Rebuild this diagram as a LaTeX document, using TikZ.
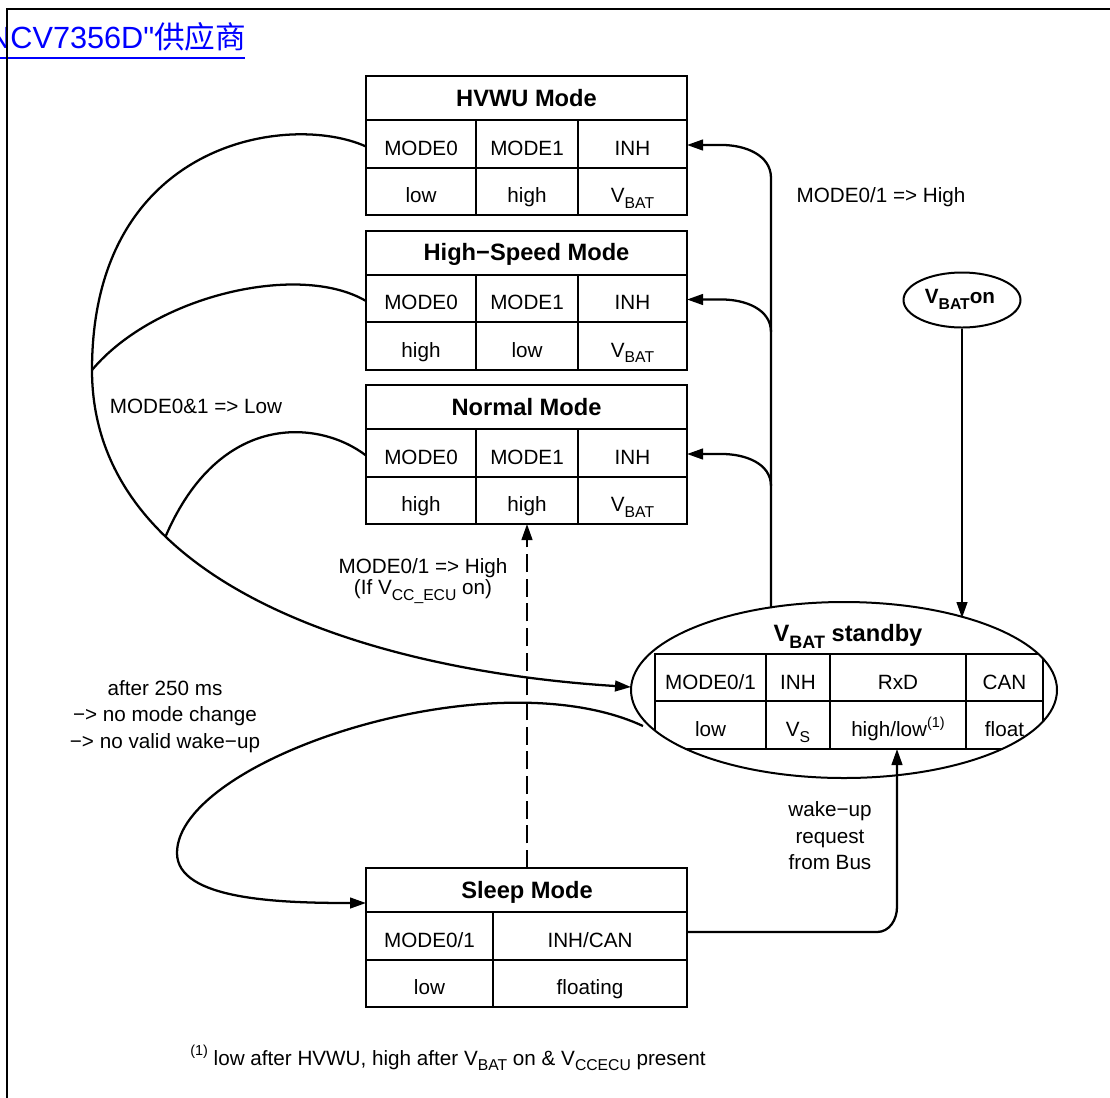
\documentclass[tikz,border=0pt]{standalone}
\usepackage{fontspec}
\setmainfont{Liberation Sans}
\newfontfamily\linkf{Liberation Sans}
\newfontfamily\cjkf{Noto Sans CJK SC}
\usepackage{graphicx}
\usetikzlibrary{arrows.meta,shapes.geometric}
\newcommand\lsub[1]{\raisebox{-0.28em}{\scalebox{0.76}{#1}}}
\newcommand\lsup[1]{\raisebox{0.45em}{\scalebox{0.7}{#1}}}
\newcommand\regf{\fontsize{15.5}{19}\selectfont}
\newcommand\ttlf{\fontsize{17.75}{21}\selectfont\bfseries}
\newcommand\modebox[9]{%
\begin{scope}[shift={(0,#2)}]
  \node[boxn,minimum width=240.75pt,minimum height=104.25pt] (#1) at (526.5,69.5) {};
  \draw[bx] (366,44) -- (687,44) (366,91.5) -- (687,91.5) (476,44) -- (476,139) (578,44) -- (578,139);
  \node[ttl] (#1-t) at (526.5,30) {#3};
  \node[reg] (#1-a) at (421,79) {#4};
  \node[reg] (#1-b) at (527,79) {#5};
  \node[reg] (#1-c) at (632.5,79) {#6};
  \node[reg] (#1-d) at (421,126.5) {#7};
  \node[reg] (#1-e) at (527,126.5) {#8};
  \node[reg] (#1-f) at (632.5,126.5) {#9};
  \coordinate (#1-in) at (687,69);
  \coordinate (#1-out) at (366,70.5);
  \coordinate (#1-bot) at (527,139);
\end{scope}}
\begin{document}
\begin{tikzpicture}[x=0.75pt,y=-0.75pt,
  reg/.style={inner sep=0pt,anchor=base,font=\regf},
  ttl/.style={inner sep=0pt,anchor=base,font=\ttlf},
  bx/.style={line width=1.5pt},
  boxn/.style={draw,rectangle,line width=1.5pt,inner sep=0pt},
  ln/.style={line width=1.7pt},
  arr/.style={ln,-{Triangle[length=12pt,width=8pt]}},
]
\useasboundingbox (0,0) rectangle (1110,1097);
\clip (0,0) rectangle (1110,1097);

% link heading and frame
\node[inner sep=0pt,anchor=base west,font=\linkf\fontsize{23}{26}\selectfont,text=blue] (link) at (-12,48) {NCV7356D"{\cjkf 供应商}};
\draw[blue,line width=1.5pt] (0,57.5) -- (245,57.5);
\draw[line width=1.5pt] (7,1120) -- (7,9) -- (1120,9);

% mode boxes
\modebox{hv}{76}{HVWU Mode}{MODE0}{MODE1}{INH}{low}{high}{V\lsub{BAT}}
\modebox{hs}{230.5}{High−Speed Mode}{MODE0}{MODE1}{INH}{high}{low}{V\lsub{BAT}}
\modebox{nm}{385}{Normal Mode}{MODE0}{MODE1}{INH}{high}{high}{V\lsub{BAT}}

% sleep box
\node[boxn,minimum width=240.75pt,minimum height=104.25pt] (sl) at (526.5,937.5) {};
\draw[bx] (366,912) -- (687,912) (366,959.5) -- (687,959.5) (493,912) -- (493,1007);
\node[ttl] (sl-t) at (527,898) {Sleep Mode};
\node[reg] (sl-a) at (429.5,947) {MODE0/1};
\node[reg] (sl-b) at (590,947) {INH/CAN};
\node[reg] (sl-c) at (429.5,994.5) {low};
\node[reg] (sl-d) at (590,994.5) {floating};
\coordinate (sl-top) at (527,868);
\coordinate (sl-left) at (366,903);
\coordinate (sl-right) at (687,932);

% standby ellipse
\node[draw,ellipse,line width=1.5pt,minimum width=319.5pt,minimum height=132pt,inner sep=0pt] (sb) at (844,690) {};
\begin{scope}
  \clip (844,690) ellipse [x radius=159.75pt, y radius=66pt];
  \draw[bx] (655,654) rectangle (1043,749);
  \draw[bx] (655,701) -- (1043,701) (766,654) -- (766,749) (830,654) -- (830,749) (966,654) -- (966,749);
\end{scope}
\node[ttl] (sb-t) at (848,641.7) {V\lsub{BAT} standby};
\node[reg] (sb-a) at (710.5,689) {MODE0/1};
\node[reg] (sb-b) at (798,689) {INH};
\node[reg] (sb-c) at (898,689) {RxD};
\node[reg] (sb-d) at (1004.5,689) {CAN};
\node[reg] (sb-e) at (710.5,736.5) {low};
\node[reg] (sb-f) at (798,736.5) {V\lsub{S}};
\node[reg] (sb-g) at (898,736.5) {high/low\lsup{(1)}};
\node[reg] (sb-h) at (1004.5,736.5) {float};
\coordinate (sb-top) at (771,608);
\coordinate (sb-in) at (962,618);
\coordinate (sb-left) at (631,687);
\coordinate (sb-ll) at (643,726);
\coordinate (sb-bot) at (897,749);

% VBAT on
\node[draw,ellipse,line width=1.5pt,minimum width=87.75pt,minimum height=41.25pt,inner sep=0pt] (vbon) at (962,300) {};
\node[inner sep=0pt,anchor=base,font=\fontsize{15.5}{18}\selectfont\bfseries] (vbon-t) at (960,303.5) {V\lsub{BAT}on};

% connectors
\draw[arr] (vbon) -- (sb-in);
\draw[arr] (sb-top) -- (771,178) to[out=90,in=0] (722,145) -- (hv-in);
\draw[arr] (771,332) to[out=90,in=0] (722,299.5) -- (hs-in);
\draw[arr] (771,486) to[out=90,in=0] (722,454) -- (nm-in);

\draw[arr] (hv-out) .. controls (290,112) and (92,140) .. (92,370)
  .. controls (92,580) and (360,670) .. (sb-left);
\path (92,370) .. controls (92,580) and (360,670) .. coordinate[pos=0.32] (j2) (631,687);
\coordinate (j1) at (92,370);
\draw[ln] (hs-out) .. controls (300,262) and (155,295) .. (j1);
\draw[ln] (nm-out) .. controls (320,420) and (220,410) .. (j2);

\draw[arr] (sb-ll) .. controls (490,655) and (177,760) .. (177,853)
  .. controls (177,900) and (280,903) .. (sl-left);
\draw[arr,dash pattern=on 13.5pt off 5pt] (sl-top) -- (nm-bot);
\draw[arr] (sl-right) -- (877,932) to[out=0,in=-90] (897,907) -- (sb-bot);

% labels
\node[reg] (l1) at (881,202.7) {MODE0/1 => High};
\node[reg] (l2) at (196,413) {MODE0\&1 => Low};
\node[reg] (l3) at (423,573.3) {MODE0/1 => High};
\node[reg] (l4) at (423,594.5) {(If V\lsub{CC\_ECU} on)};
\node[reg] (l5) at (165,695) {after 250 ms};
\node[reg] (l6) at (165,721.7) {−> no mode change};
\node[reg] (l7) at (165,748) {−> no valid wake−up};
\node[reg] (l8) at (830,816.7) {wake−up};
\node[reg] (l9) at (830,843) {request};
\node[reg] (l10) at (830,869) {from Bus};
\node[reg,anchor=base west] (fn) at (190,1065) {\lsup{(1)} low after HVWU, high after V\lsub{BAT} on \& V\lsub{CCECU} present};
\end{tikzpicture}
\end{document}
